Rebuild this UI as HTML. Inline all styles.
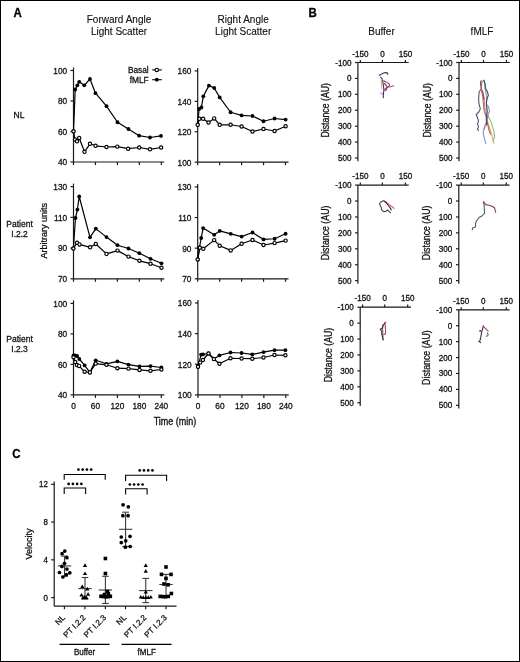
<!DOCTYPE html>
<html><head><meta charset="utf-8"><style>html,body{margin:0;padding:0;background:#fff;}body{width:520px;height:662px;overflow:hidden;font-family:"Liberation Sans", sans-serif;}svg{display:block;will-change:transform;}text{-webkit-font-smoothing:antialiased;}</style></head><body>
<svg width="520" height="662" viewBox="0 0 520 662" font-family='"Liberation Sans", sans-serif'>
<rect x="0" y="0" width="520" height="662" fill="#fff"/>
<text x="0.00" y="0.00" font-size="11.5" text-anchor="start" font-weight="bold" fill="#000" stroke="#000" stroke-width="0.28" transform="translate(13.6,16.9) scale(1,1.09)">A</text>
<text x="0.00" y="0.00" font-size="11.5" text-anchor="start" font-weight="bold" fill="#000" stroke="#000" stroke-width="0.28" transform="translate(308.6,17.0) scale(1,1.09)">B</text>
<text x="0.00" y="0.00" font-size="11.5" text-anchor="start" font-weight="bold" fill="#000" stroke="#000" stroke-width="0.28" transform="translate(12.3,457.5) scale(1,1.09)">C</text>
<text x="119.00" y="22.60" font-size="10" text-anchor="middle" font-weight="normal" fill="#111" stroke="#111" stroke-width="0.12" >Forward Angle</text>
<text x="119.00" y="34.70" font-size="10" text-anchor="middle" font-weight="normal" fill="#111" stroke="#111" stroke-width="0.12" >Light Scatter</text>
<text x="243.20" y="22.60" font-size="10" text-anchor="middle" font-weight="normal" fill="#111" stroke="#111" stroke-width="0.12" >Right Angle</text>
<text x="243.20" y="34.70" font-size="10" text-anchor="middle" font-weight="normal" fill="#111" stroke="#111" stroke-width="0.12" >Light Scatter</text>
<text x="148.70" y="72.80" font-size="8.3" text-anchor="end" font-weight="normal" fill="#111" stroke="#111" stroke-width="0.28" >Basal</text>
<text x="148.70" y="82.70" font-size="8.3" text-anchor="end" font-weight="normal" fill="#111" stroke="#111" stroke-width="0.28" >fMLF</text>
<line x1="152.20" y1="69.90" x2="161.80" y2="69.90" stroke="#000" stroke-width="1.1"/>
<line x1="152.20" y1="79.70" x2="161.80" y2="79.70" stroke="#000" stroke-width="1.1"/>
<circle cx="156.8" cy="69.9" r="1.7" fill="#fff" stroke="#000" stroke-width="1.15"/>
<circle cx="156.8" cy="79.7" r="1.9" fill="#000"/>
<text x="19.00" y="117.60" font-size="8.5" text-anchor="middle" font-weight="normal" fill="#111" stroke="#111" stroke-width="0.28" >NL</text>
<text x="19.60" y="227.10" font-size="8.5" text-anchor="middle" font-weight="normal" fill="#111" stroke="#111" stroke-width="0.28" >Patient</text>
<text x="19.60" y="237.00" font-size="8.5" text-anchor="middle" font-weight="normal" fill="#111" stroke="#111" stroke-width="0.28" >I.2.2</text>
<text x="19.60" y="341.60" font-size="8.5" text-anchor="middle" font-weight="normal" fill="#111" stroke="#111" stroke-width="0.28" >Patient</text>
<text x="19.60" y="351.70" font-size="8.5" text-anchor="middle" font-weight="normal" fill="#111" stroke="#111" stroke-width="0.28" >I.2.3</text>
<text x="0.00" y="0.00" font-size="9" text-anchor="middle" font-weight="normal" fill="#111" stroke="#111" stroke-width="0.28" transform="translate(47.2,230.8) rotate(-90)">Arbitrary units</text>
<line x1="73.50" y1="162.00" x2="73.50" y2="67.50" stroke="#1a1a1a" stroke-width="1.2"/>
<line x1="70.50" y1="162.00" x2="73.50" y2="162.00" stroke="#1a1a1a" stroke-width="1.2"/>
<text x="67.20" y="165.40" font-size="8.3" text-anchor="end" font-weight="normal" fill="#111" stroke="#111" stroke-width="0.28" >40</text>
<line x1="70.50" y1="131.50" x2="73.50" y2="131.50" stroke="#1a1a1a" stroke-width="1.2"/>
<text x="67.20" y="134.90" font-size="8.3" text-anchor="end" font-weight="normal" fill="#111" stroke="#111" stroke-width="0.28" >60</text>
<line x1="70.50" y1="101.00" x2="73.50" y2="101.00" stroke="#1a1a1a" stroke-width="1.2"/>
<text x="67.20" y="104.40" font-size="8.3" text-anchor="end" font-weight="normal" fill="#111" stroke="#111" stroke-width="0.28" >80</text>
<line x1="70.50" y1="70.50" x2="73.50" y2="70.50" stroke="#1a1a1a" stroke-width="1.2"/>
<text x="67.20" y="73.90" font-size="8.3" text-anchor="end" font-weight="normal" fill="#111" stroke="#111" stroke-width="0.28" >100</text>
<line x1="73.50" y1="162.00" x2="164.30" y2="162.00" stroke="#1a1a1a" stroke-width="1.2"/>
<line x1="73.50" y1="162.00" x2="73.50" y2="165.00" stroke="#1a1a1a" stroke-width="1.2"/>
<line x1="95.45" y1="162.00" x2="95.45" y2="165.00" stroke="#1a1a1a" stroke-width="1.2"/>
<line x1="117.40" y1="162.00" x2="117.40" y2="165.00" stroke="#1a1a1a" stroke-width="1.2"/>
<line x1="139.35" y1="162.00" x2="139.35" y2="165.00" stroke="#1a1a1a" stroke-width="1.2"/>
<line x1="161.30" y1="162.00" x2="161.30" y2="165.00" stroke="#1a1a1a" stroke-width="1.2"/>
<polyline points="73.50,131.50 75.20,89.50 77.30,85.30 79.20,81.80 84.30,85.30 90.00,79.00 95.50,93.20 106.50,106.20 117.50,122.25 128.40,129.00 139.10,135.70 150.00,137.50 161.00,135.90" fill="none" stroke="#000" stroke-width="1.2" stroke-linejoin="round" stroke-linecap="round"/>
<polyline points="73.50,131.30 75.00,139.50 77.00,141.30 79.20,138.00 84.50,151.80 90.00,143.80 95.50,145.80 106.50,147.00 117.30,146.60 128.10,148.70 139.20,147.50 150.00,149.30 161.10,147.50" fill="none" stroke="#000" stroke-width="1.2" stroke-linejoin="round" stroke-linecap="round"/>
<circle cx="73.50" cy="131.50" r="1.9" fill="#000"/>
<circle cx="75.20" cy="89.50" r="1.9" fill="#000"/>
<circle cx="77.30" cy="85.30" r="1.9" fill="#000"/>
<circle cx="79.20" cy="81.80" r="1.9" fill="#000"/>
<circle cx="84.30" cy="85.30" r="1.9" fill="#000"/>
<circle cx="90.00" cy="79.00" r="1.9" fill="#000"/>
<circle cx="95.50" cy="93.20" r="1.9" fill="#000"/>
<circle cx="106.50" cy="106.20" r="1.9" fill="#000"/>
<circle cx="117.50" cy="122.25" r="1.9" fill="#000"/>
<circle cx="128.40" cy="129.00" r="1.9" fill="#000"/>
<circle cx="139.10" cy="135.70" r="1.9" fill="#000"/>
<circle cx="150.00" cy="137.50" r="1.9" fill="#000"/>
<circle cx="161.00" cy="135.90" r="1.9" fill="#000"/>
<circle cx="73.50" cy="131.30" r="1.65" fill="#fff" stroke="#000" stroke-width="1.15"/>
<circle cx="75.00" cy="139.50" r="1.65" fill="#fff" stroke="#000" stroke-width="1.15"/>
<circle cx="77.00" cy="141.30" r="1.65" fill="#fff" stroke="#000" stroke-width="1.15"/>
<circle cx="79.20" cy="138.00" r="1.65" fill="#fff" stroke="#000" stroke-width="1.15"/>
<circle cx="84.50" cy="151.80" r="1.65" fill="#fff" stroke="#000" stroke-width="1.15"/>
<circle cx="90.00" cy="143.80" r="1.65" fill="#fff" stroke="#000" stroke-width="1.15"/>
<circle cx="95.50" cy="145.80" r="1.65" fill="#fff" stroke="#000" stroke-width="1.15"/>
<circle cx="106.50" cy="147.00" r="1.65" fill="#fff" stroke="#000" stroke-width="1.15"/>
<circle cx="117.30" cy="146.60" r="1.65" fill="#fff" stroke="#000" stroke-width="1.15"/>
<circle cx="128.10" cy="148.70" r="1.65" fill="#fff" stroke="#000" stroke-width="1.15"/>
<circle cx="139.20" cy="147.50" r="1.65" fill="#fff" stroke="#000" stroke-width="1.15"/>
<circle cx="150.00" cy="149.30" r="1.65" fill="#fff" stroke="#000" stroke-width="1.15"/>
<circle cx="161.10" cy="147.50" r="1.65" fill="#fff" stroke="#000" stroke-width="1.15"/>
<line x1="197.70" y1="162.20" x2="197.70" y2="67.90" stroke="#1a1a1a" stroke-width="1.2"/>
<line x1="194.70" y1="162.20" x2="197.70" y2="162.20" stroke="#1a1a1a" stroke-width="1.2"/>
<text x="191.40" y="165.60" font-size="8.3" text-anchor="end" font-weight="normal" fill="#111" stroke="#111" stroke-width="0.28" >100</text>
<line x1="194.70" y1="131.77" x2="197.70" y2="131.77" stroke="#1a1a1a" stroke-width="1.2"/>
<text x="191.40" y="135.17" font-size="8.3" text-anchor="end" font-weight="normal" fill="#111" stroke="#111" stroke-width="0.28" >120</text>
<line x1="194.70" y1="101.33" x2="197.70" y2="101.33" stroke="#1a1a1a" stroke-width="1.2"/>
<text x="191.40" y="104.73" font-size="8.3" text-anchor="end" font-weight="normal" fill="#111" stroke="#111" stroke-width="0.28" >140</text>
<line x1="194.70" y1="70.90" x2="197.70" y2="70.90" stroke="#1a1a1a" stroke-width="1.2"/>
<text x="191.40" y="74.30" font-size="8.3" text-anchor="end" font-weight="normal" fill="#111" stroke="#111" stroke-width="0.28" >160</text>
<line x1="197.70" y1="162.20" x2="288.50" y2="162.20" stroke="#1a1a1a" stroke-width="1.2"/>
<line x1="197.70" y1="162.20" x2="197.70" y2="165.20" stroke="#1a1a1a" stroke-width="1.2"/>
<line x1="219.65" y1="162.20" x2="219.65" y2="165.20" stroke="#1a1a1a" stroke-width="1.2"/>
<line x1="241.60" y1="162.20" x2="241.60" y2="165.20" stroke="#1a1a1a" stroke-width="1.2"/>
<line x1="263.55" y1="162.20" x2="263.55" y2="165.20" stroke="#1a1a1a" stroke-width="1.2"/>
<line x1="285.50" y1="162.20" x2="285.50" y2="165.20" stroke="#1a1a1a" stroke-width="1.2"/>
<polyline points="197.70,124.80 199.10,109.00 201.40,107.50 203.30,96.30 208.90,85.60 214.20,88.00 219.70,97.40 230.60,112.25 241.60,115.40 252.50,116.00 263.50,121.25 274.60,118.50 285.60,119.60" fill="none" stroke="#000" stroke-width="1.2" stroke-linejoin="round" stroke-linecap="round"/>
<polyline points="197.70,124.80 199.40,118.80 203.10,118.80 208.50,122.50 214.20,118.40 219.70,124.80 230.60,124.75 241.60,126.50 252.50,131.50 263.50,129.00 274.60,131.00 285.60,126.25" fill="none" stroke="#000" stroke-width="1.2" stroke-linejoin="round" stroke-linecap="round"/>
<circle cx="197.70" cy="124.80" r="1.9" fill="#000"/>
<circle cx="199.10" cy="109.00" r="1.9" fill="#000"/>
<circle cx="201.40" cy="107.50" r="1.9" fill="#000"/>
<circle cx="203.30" cy="96.30" r="1.9" fill="#000"/>
<circle cx="208.90" cy="85.60" r="1.9" fill="#000"/>
<circle cx="214.20" cy="88.00" r="1.9" fill="#000"/>
<circle cx="219.70" cy="97.40" r="1.9" fill="#000"/>
<circle cx="230.60" cy="112.25" r="1.9" fill="#000"/>
<circle cx="241.60" cy="115.40" r="1.9" fill="#000"/>
<circle cx="252.50" cy="116.00" r="1.9" fill="#000"/>
<circle cx="263.50" cy="121.25" r="1.9" fill="#000"/>
<circle cx="274.60" cy="118.50" r="1.9" fill="#000"/>
<circle cx="285.60" cy="119.60" r="1.9" fill="#000"/>
<circle cx="197.70" cy="124.80" r="1.65" fill="#fff" stroke="#000" stroke-width="1.15"/>
<circle cx="199.40" cy="118.80" r="1.65" fill="#fff" stroke="#000" stroke-width="1.15"/>
<circle cx="203.10" cy="118.80" r="1.65" fill="#fff" stroke="#000" stroke-width="1.15"/>
<circle cx="208.50" cy="122.50" r="1.65" fill="#fff" stroke="#000" stroke-width="1.15"/>
<circle cx="214.20" cy="118.40" r="1.65" fill="#fff" stroke="#000" stroke-width="1.15"/>
<circle cx="219.70" cy="124.80" r="1.65" fill="#fff" stroke="#000" stroke-width="1.15"/>
<circle cx="230.60" cy="124.75" r="1.65" fill="#fff" stroke="#000" stroke-width="1.15"/>
<circle cx="241.60" cy="126.50" r="1.65" fill="#fff" stroke="#000" stroke-width="1.15"/>
<circle cx="252.50" cy="131.50" r="1.65" fill="#fff" stroke="#000" stroke-width="1.15"/>
<circle cx="263.50" cy="129.00" r="1.65" fill="#fff" stroke="#000" stroke-width="1.15"/>
<circle cx="274.60" cy="131.00" r="1.65" fill="#fff" stroke="#000" stroke-width="1.15"/>
<circle cx="285.60" cy="126.25" r="1.65" fill="#fff" stroke="#000" stroke-width="1.15"/>
<line x1="73.50" y1="278.80" x2="73.50" y2="183.60" stroke="#1a1a1a" stroke-width="1.2"/>
<line x1="70.50" y1="278.80" x2="73.50" y2="278.80" stroke="#1a1a1a" stroke-width="1.2"/>
<text x="67.20" y="282.20" font-size="8.3" text-anchor="end" font-weight="normal" fill="#111" stroke="#111" stroke-width="0.28" >70</text>
<line x1="70.50" y1="248.07" x2="73.50" y2="248.07" stroke="#1a1a1a" stroke-width="1.2"/>
<text x="67.20" y="251.47" font-size="8.3" text-anchor="end" font-weight="normal" fill="#111" stroke="#111" stroke-width="0.28" >90</text>
<line x1="70.50" y1="217.33" x2="73.50" y2="217.33" stroke="#1a1a1a" stroke-width="1.2"/>
<text x="67.20" y="220.73" font-size="8.3" text-anchor="end" font-weight="normal" fill="#111" stroke="#111" stroke-width="0.28" >110</text>
<line x1="70.50" y1="186.60" x2="73.50" y2="186.60" stroke="#1a1a1a" stroke-width="1.2"/>
<text x="67.20" y="190.00" font-size="8.3" text-anchor="end" font-weight="normal" fill="#111" stroke="#111" stroke-width="0.28" >130</text>
<line x1="73.50" y1="278.80" x2="164.30" y2="278.80" stroke="#1a1a1a" stroke-width="1.2"/>
<line x1="73.50" y1="278.80" x2="73.50" y2="281.80" stroke="#1a1a1a" stroke-width="1.2"/>
<line x1="95.45" y1="278.80" x2="95.45" y2="281.80" stroke="#1a1a1a" stroke-width="1.2"/>
<line x1="117.40" y1="278.80" x2="117.40" y2="281.80" stroke="#1a1a1a" stroke-width="1.2"/>
<line x1="139.35" y1="278.80" x2="139.35" y2="281.80" stroke="#1a1a1a" stroke-width="1.2"/>
<line x1="161.30" y1="278.80" x2="161.30" y2="281.80" stroke="#1a1a1a" stroke-width="1.2"/>
<polyline points="73.40,248.50 75.50,218.00 77.40,209.60 79.20,196.50 90.00,237.30 95.80,228.60 106.50,237.10 117.50,245.20 128.50,248.50 139.40,253.20 150.50,258.80 161.50,263.30" fill="none" stroke="#000" stroke-width="1.2" stroke-linejoin="round" stroke-linecap="round"/>
<polyline points="73.40,248.50 77.00,242.80 79.50,244.40 90.10,247.30 95.80,244.00 106.50,253.90 117.50,250.60 128.50,256.60 139.40,260.80 150.50,263.70 161.50,267.80" fill="none" stroke="#000" stroke-width="1.2" stroke-linejoin="round" stroke-linecap="round"/>
<circle cx="73.40" cy="248.50" r="1.9" fill="#000"/>
<circle cx="75.50" cy="218.00" r="1.9" fill="#000"/>
<circle cx="77.40" cy="209.60" r="1.9" fill="#000"/>
<circle cx="79.20" cy="196.50" r="1.9" fill="#000"/>
<circle cx="90.00" cy="237.30" r="1.9" fill="#000"/>
<circle cx="95.80" cy="228.60" r="1.9" fill="#000"/>
<circle cx="106.50" cy="237.10" r="1.9" fill="#000"/>
<circle cx="117.50" cy="245.20" r="1.9" fill="#000"/>
<circle cx="128.50" cy="248.50" r="1.9" fill="#000"/>
<circle cx="139.40" cy="253.20" r="1.9" fill="#000"/>
<circle cx="150.50" cy="258.80" r="1.9" fill="#000"/>
<circle cx="161.50" cy="263.30" r="1.9" fill="#000"/>
<circle cx="73.40" cy="248.50" r="1.65" fill="#fff" stroke="#000" stroke-width="1.15"/>
<circle cx="77.00" cy="242.80" r="1.65" fill="#fff" stroke="#000" stroke-width="1.15"/>
<circle cx="79.50" cy="244.40" r="1.65" fill="#fff" stroke="#000" stroke-width="1.15"/>
<circle cx="90.10" cy="247.30" r="1.65" fill="#fff" stroke="#000" stroke-width="1.15"/>
<circle cx="95.80" cy="244.00" r="1.65" fill="#fff" stroke="#000" stroke-width="1.15"/>
<circle cx="106.50" cy="253.90" r="1.65" fill="#fff" stroke="#000" stroke-width="1.15"/>
<circle cx="117.50" cy="250.60" r="1.65" fill="#fff" stroke="#000" stroke-width="1.15"/>
<circle cx="128.50" cy="256.60" r="1.65" fill="#fff" stroke="#000" stroke-width="1.15"/>
<circle cx="139.40" cy="260.80" r="1.65" fill="#fff" stroke="#000" stroke-width="1.15"/>
<circle cx="150.50" cy="263.70" r="1.65" fill="#fff" stroke="#000" stroke-width="1.15"/>
<circle cx="161.50" cy="267.80" r="1.65" fill="#fff" stroke="#000" stroke-width="1.15"/>
<line x1="197.70" y1="278.80" x2="197.70" y2="183.90" stroke="#1a1a1a" stroke-width="1.2"/>
<line x1="194.70" y1="278.80" x2="197.70" y2="278.80" stroke="#1a1a1a" stroke-width="1.2"/>
<text x="191.40" y="282.20" font-size="8.3" text-anchor="end" font-weight="normal" fill="#111" stroke="#111" stroke-width="0.28" >70</text>
<line x1="194.70" y1="248.17" x2="197.70" y2="248.17" stroke="#1a1a1a" stroke-width="1.2"/>
<text x="191.40" y="251.57" font-size="8.3" text-anchor="end" font-weight="normal" fill="#111" stroke="#111" stroke-width="0.28" >90</text>
<line x1="194.70" y1="217.53" x2="197.70" y2="217.53" stroke="#1a1a1a" stroke-width="1.2"/>
<text x="191.40" y="220.93" font-size="8.3" text-anchor="end" font-weight="normal" fill="#111" stroke="#111" stroke-width="0.28" >110</text>
<line x1="194.70" y1="186.90" x2="197.70" y2="186.90" stroke="#1a1a1a" stroke-width="1.2"/>
<text x="191.40" y="190.30" font-size="8.3" text-anchor="end" font-weight="normal" fill="#111" stroke="#111" stroke-width="0.28" >130</text>
<line x1="197.70" y1="278.80" x2="288.50" y2="278.80" stroke="#1a1a1a" stroke-width="1.2"/>
<line x1="197.70" y1="278.80" x2="197.70" y2="281.80" stroke="#1a1a1a" stroke-width="1.2"/>
<line x1="219.65" y1="278.80" x2="219.65" y2="281.80" stroke="#1a1a1a" stroke-width="1.2"/>
<line x1="241.60" y1="278.80" x2="241.60" y2="281.80" stroke="#1a1a1a" stroke-width="1.2"/>
<line x1="263.55" y1="278.80" x2="263.55" y2="281.80" stroke="#1a1a1a" stroke-width="1.2"/>
<line x1="285.50" y1="278.80" x2="285.50" y2="281.80" stroke="#1a1a1a" stroke-width="1.2"/>
<polyline points="197.70,259.50 199.50,247.50 201.20,238.00 203.10,228.10 214.20,234.80 219.70,230.90 230.70,233.80 241.60,236.60 252.50,232.50 263.50,239.40 274.60,238.75 285.60,233.75" fill="none" stroke="#000" stroke-width="1.2" stroke-linejoin="round" stroke-linecap="round"/>
<polyline points="197.70,259.50 199.80,247.70 203.30,248.80 214.20,240.10 219.70,245.70 230.70,250.40 241.60,243.75 252.50,240.00 263.50,245.00 274.60,243.10 285.60,240.60" fill="none" stroke="#000" stroke-width="1.2" stroke-linejoin="round" stroke-linecap="round"/>
<circle cx="197.70" cy="259.50" r="1.9" fill="#000"/>
<circle cx="199.50" cy="247.50" r="1.9" fill="#000"/>
<circle cx="201.20" cy="238.00" r="1.9" fill="#000"/>
<circle cx="203.10" cy="228.10" r="1.9" fill="#000"/>
<circle cx="214.20" cy="234.80" r="1.9" fill="#000"/>
<circle cx="219.70" cy="230.90" r="1.9" fill="#000"/>
<circle cx="230.70" cy="233.80" r="1.9" fill="#000"/>
<circle cx="241.60" cy="236.60" r="1.9" fill="#000"/>
<circle cx="252.50" cy="232.50" r="1.9" fill="#000"/>
<circle cx="263.50" cy="239.40" r="1.9" fill="#000"/>
<circle cx="274.60" cy="238.75" r="1.9" fill="#000"/>
<circle cx="285.60" cy="233.75" r="1.9" fill="#000"/>
<circle cx="197.70" cy="259.50" r="1.65" fill="#fff" stroke="#000" stroke-width="1.15"/>
<circle cx="199.80" cy="247.70" r="1.65" fill="#fff" stroke="#000" stroke-width="1.15"/>
<circle cx="203.30" cy="248.80" r="1.65" fill="#fff" stroke="#000" stroke-width="1.15"/>
<circle cx="214.20" cy="240.10" r="1.65" fill="#fff" stroke="#000" stroke-width="1.15"/>
<circle cx="219.70" cy="245.70" r="1.65" fill="#fff" stroke="#000" stroke-width="1.15"/>
<circle cx="230.70" cy="250.40" r="1.65" fill="#fff" stroke="#000" stroke-width="1.15"/>
<circle cx="241.60" cy="243.75" r="1.65" fill="#fff" stroke="#000" stroke-width="1.15"/>
<circle cx="252.50" cy="240.00" r="1.65" fill="#fff" stroke="#000" stroke-width="1.15"/>
<circle cx="263.50" cy="245.00" r="1.65" fill="#fff" stroke="#000" stroke-width="1.15"/>
<circle cx="274.60" cy="243.10" r="1.65" fill="#fff" stroke="#000" stroke-width="1.15"/>
<circle cx="285.60" cy="240.60" r="1.65" fill="#fff" stroke="#000" stroke-width="1.15"/>
<line x1="73.50" y1="394.90" x2="73.50" y2="300.40" stroke="#1a1a1a" stroke-width="1.2"/>
<line x1="70.50" y1="394.90" x2="73.50" y2="394.90" stroke="#1a1a1a" stroke-width="1.2"/>
<text x="67.20" y="398.30" font-size="8.3" text-anchor="end" font-weight="normal" fill="#111" stroke="#111" stroke-width="0.28" >40</text>
<line x1="70.50" y1="364.40" x2="73.50" y2="364.40" stroke="#1a1a1a" stroke-width="1.2"/>
<text x="67.20" y="367.80" font-size="8.3" text-anchor="end" font-weight="normal" fill="#111" stroke="#111" stroke-width="0.28" >60</text>
<line x1="70.50" y1="333.90" x2="73.50" y2="333.90" stroke="#1a1a1a" stroke-width="1.2"/>
<text x="67.20" y="337.30" font-size="8.3" text-anchor="end" font-weight="normal" fill="#111" stroke="#111" stroke-width="0.28" >80</text>
<line x1="70.50" y1="303.40" x2="73.50" y2="303.40" stroke="#1a1a1a" stroke-width="1.2"/>
<text x="67.20" y="306.80" font-size="8.3" text-anchor="end" font-weight="normal" fill="#111" stroke="#111" stroke-width="0.28" >100</text>
<line x1="73.50" y1="394.90" x2="164.30" y2="394.90" stroke="#1a1a1a" stroke-width="1.2"/>
<line x1="73.50" y1="394.90" x2="73.50" y2="397.90" stroke="#1a1a1a" stroke-width="1.2"/>
<text x="73.50" y="408.60" font-size="8.3" text-anchor="middle" font-weight="normal" fill="#111" stroke="#111" stroke-width="0.28" >0</text>
<line x1="95.45" y1="394.90" x2="95.45" y2="397.90" stroke="#1a1a1a" stroke-width="1.2"/>
<text x="95.45" y="408.60" font-size="8.3" text-anchor="middle" font-weight="normal" fill="#111" stroke="#111" stroke-width="0.28" >60</text>
<line x1="117.40" y1="394.90" x2="117.40" y2="397.90" stroke="#1a1a1a" stroke-width="1.2"/>
<text x="117.40" y="408.60" font-size="8.3" text-anchor="middle" font-weight="normal" fill="#111" stroke="#111" stroke-width="0.28" >120</text>
<line x1="139.35" y1="394.90" x2="139.35" y2="397.90" stroke="#1a1a1a" stroke-width="1.2"/>
<text x="139.35" y="408.60" font-size="8.3" text-anchor="middle" font-weight="normal" fill="#111" stroke="#111" stroke-width="0.28" >180</text>
<line x1="161.30" y1="394.90" x2="161.30" y2="397.90" stroke="#1a1a1a" stroke-width="1.2"/>
<text x="161.30" y="408.60" font-size="8.3" text-anchor="middle" font-weight="normal" fill="#111" stroke="#111" stroke-width="0.28" >240</text>
<polyline points="73.50,355.50 75.20,355.30 77.10,356.00 79.30,359.00 84.60,365.40 89.90,372.30 95.70,360.30 106.50,363.80 117.40,361.30 128.50,364.60 139.50,366.30 150.50,366.10 161.40,367.50" fill="none" stroke="#000" stroke-width="1.2" stroke-linejoin="round" stroke-linecap="round"/>
<polyline points="73.50,357.30 75.20,362.00 76.90,365.00 79.10,365.90 84.60,371.80 89.90,372.40 95.70,363.60 106.50,364.80 117.40,368.20 128.50,368.60 139.50,369.90 150.50,370.80 161.40,369.50" fill="none" stroke="#000" stroke-width="1.2" stroke-linejoin="round" stroke-linecap="round"/>
<circle cx="73.50" cy="355.50" r="1.9" fill="#000"/>
<circle cx="75.20" cy="355.30" r="1.9" fill="#000"/>
<circle cx="77.10" cy="356.00" r="1.9" fill="#000"/>
<circle cx="79.30" cy="359.00" r="1.9" fill="#000"/>
<circle cx="84.60" cy="365.40" r="1.9" fill="#000"/>
<circle cx="89.90" cy="372.30" r="1.9" fill="#000"/>
<circle cx="95.70" cy="360.30" r="1.9" fill="#000"/>
<circle cx="106.50" cy="363.80" r="1.9" fill="#000"/>
<circle cx="117.40" cy="361.30" r="1.9" fill="#000"/>
<circle cx="128.50" cy="364.60" r="1.9" fill="#000"/>
<circle cx="139.50" cy="366.30" r="1.9" fill="#000"/>
<circle cx="150.50" cy="366.10" r="1.9" fill="#000"/>
<circle cx="161.40" cy="367.50" r="1.9" fill="#000"/>
<circle cx="73.50" cy="357.30" r="1.65" fill="#fff" stroke="#000" stroke-width="1.15"/>
<circle cx="75.20" cy="362.00" r="1.65" fill="#fff" stroke="#000" stroke-width="1.15"/>
<circle cx="76.90" cy="365.00" r="1.65" fill="#fff" stroke="#000" stroke-width="1.15"/>
<circle cx="79.10" cy="365.90" r="1.65" fill="#fff" stroke="#000" stroke-width="1.15"/>
<circle cx="84.60" cy="371.80" r="1.65" fill="#fff" stroke="#000" stroke-width="1.15"/>
<circle cx="89.90" cy="372.40" r="1.65" fill="#fff" stroke="#000" stroke-width="1.15"/>
<circle cx="95.70" cy="363.60" r="1.65" fill="#fff" stroke="#000" stroke-width="1.15"/>
<circle cx="106.50" cy="364.80" r="1.65" fill="#fff" stroke="#000" stroke-width="1.15"/>
<circle cx="117.40" cy="368.20" r="1.65" fill="#fff" stroke="#000" stroke-width="1.15"/>
<circle cx="128.50" cy="368.60" r="1.65" fill="#fff" stroke="#000" stroke-width="1.15"/>
<circle cx="139.50" cy="369.90" r="1.65" fill="#fff" stroke="#000" stroke-width="1.15"/>
<circle cx="150.50" cy="370.80" r="1.65" fill="#fff" stroke="#000" stroke-width="1.15"/>
<circle cx="161.40" cy="369.50" r="1.65" fill="#fff" stroke="#000" stroke-width="1.15"/>
<line x1="198.00" y1="394.90" x2="198.00" y2="300.00" stroke="#1a1a1a" stroke-width="1.2"/>
<line x1="195.00" y1="394.90" x2="198.00" y2="394.90" stroke="#1a1a1a" stroke-width="1.2"/>
<text x="191.70" y="398.30" font-size="8.3" text-anchor="end" font-weight="normal" fill="#111" stroke="#111" stroke-width="0.28" >100</text>
<line x1="195.00" y1="364.27" x2="198.00" y2="364.27" stroke="#1a1a1a" stroke-width="1.2"/>
<text x="191.70" y="367.67" font-size="8.3" text-anchor="end" font-weight="normal" fill="#111" stroke="#111" stroke-width="0.28" >120</text>
<line x1="195.00" y1="333.63" x2="198.00" y2="333.63" stroke="#1a1a1a" stroke-width="1.2"/>
<text x="191.70" y="337.03" font-size="8.3" text-anchor="end" font-weight="normal" fill="#111" stroke="#111" stroke-width="0.28" >140</text>
<line x1="195.00" y1="303.00" x2="198.00" y2="303.00" stroke="#1a1a1a" stroke-width="1.2"/>
<text x="191.70" y="306.40" font-size="8.3" text-anchor="end" font-weight="normal" fill="#111" stroke="#111" stroke-width="0.28" >160</text>
<line x1="198.00" y1="394.90" x2="288.80" y2="394.90" stroke="#1a1a1a" stroke-width="1.2"/>
<line x1="198.00" y1="394.90" x2="198.00" y2="397.90" stroke="#1a1a1a" stroke-width="1.2"/>
<text x="198.00" y="408.60" font-size="8.3" text-anchor="middle" font-weight="normal" fill="#111" stroke="#111" stroke-width="0.28" >0</text>
<line x1="219.95" y1="394.90" x2="219.95" y2="397.90" stroke="#1a1a1a" stroke-width="1.2"/>
<text x="219.95" y="408.60" font-size="8.3" text-anchor="middle" font-weight="normal" fill="#111" stroke="#111" stroke-width="0.28" >60</text>
<line x1="241.90" y1="394.90" x2="241.90" y2="397.90" stroke="#1a1a1a" stroke-width="1.2"/>
<text x="241.90" y="408.60" font-size="8.3" text-anchor="middle" font-weight="normal" fill="#111" stroke="#111" stroke-width="0.28" >120</text>
<line x1="263.85" y1="394.90" x2="263.85" y2="397.90" stroke="#1a1a1a" stroke-width="1.2"/>
<text x="263.85" y="408.60" font-size="8.3" text-anchor="middle" font-weight="normal" fill="#111" stroke="#111" stroke-width="0.28" >180</text>
<line x1="285.80" y1="394.90" x2="285.80" y2="397.90" stroke="#1a1a1a" stroke-width="1.2"/>
<text x="285.80" y="408.60" font-size="8.3" text-anchor="middle" font-weight="normal" fill="#111" stroke="#111" stroke-width="0.28" >240</text>
<polyline points="198.00,366.70 201.10,354.60 203.00,354.40 208.50,353.50 213.90,359.00 219.40,355.40 230.50,352.50 241.60,353.00 252.30,354.40 263.50,352.10 274.50,350.20 285.40,350.20" fill="none" stroke="#000" stroke-width="1.2" stroke-linejoin="round" stroke-linecap="round"/>
<polyline points="198.00,366.70 200.20,362.60 202.90,360.00 208.50,353.50 213.90,359.00 219.40,363.80 230.50,358.30 241.60,358.50 252.30,358.70 263.50,357.50 274.50,355.00 285.40,355.30" fill="none" stroke="#000" stroke-width="1.2" stroke-linejoin="round" stroke-linecap="round"/>
<circle cx="198.00" cy="366.70" r="1.9" fill="#000"/>
<circle cx="201.10" cy="354.60" r="1.9" fill="#000"/>
<circle cx="203.00" cy="354.40" r="1.9" fill="#000"/>
<circle cx="208.50" cy="353.50" r="1.9" fill="#000"/>
<circle cx="213.90" cy="359.00" r="1.9" fill="#000"/>
<circle cx="219.40" cy="355.40" r="1.9" fill="#000"/>
<circle cx="230.50" cy="352.50" r="1.9" fill="#000"/>
<circle cx="241.60" cy="353.00" r="1.9" fill="#000"/>
<circle cx="252.30" cy="354.40" r="1.9" fill="#000"/>
<circle cx="263.50" cy="352.10" r="1.9" fill="#000"/>
<circle cx="274.50" cy="350.20" r="1.9" fill="#000"/>
<circle cx="285.40" cy="350.20" r="1.9" fill="#000"/>
<circle cx="198.00" cy="366.70" r="1.65" fill="#fff" stroke="#000" stroke-width="1.15"/>
<circle cx="200.20" cy="362.60" r="1.65" fill="#fff" stroke="#000" stroke-width="1.15"/>
<circle cx="202.90" cy="360.00" r="1.65" fill="#fff" stroke="#000" stroke-width="1.15"/>
<circle cx="208.50" cy="353.50" r="1.65" fill="#fff" stroke="#000" stroke-width="1.15"/>
<circle cx="213.90" cy="359.00" r="1.65" fill="#fff" stroke="#000" stroke-width="1.15"/>
<circle cx="219.40" cy="363.80" r="1.65" fill="#fff" stroke="#000" stroke-width="1.15"/>
<circle cx="230.50" cy="358.30" r="1.65" fill="#fff" stroke="#000" stroke-width="1.15"/>
<circle cx="241.60" cy="358.50" r="1.65" fill="#fff" stroke="#000" stroke-width="1.15"/>
<circle cx="252.30" cy="358.70" r="1.65" fill="#fff" stroke="#000" stroke-width="1.15"/>
<circle cx="263.50" cy="357.50" r="1.65" fill="#fff" stroke="#000" stroke-width="1.15"/>
<circle cx="274.50" cy="355.00" r="1.65" fill="#fff" stroke="#000" stroke-width="1.15"/>
<circle cx="285.40" cy="355.30" r="1.65" fill="#fff" stroke="#000" stroke-width="1.15"/>
<text x="0.00" y="0.00" font-size="9" text-anchor="middle" font-weight="normal" fill="#111" stroke="#111" stroke-width="0.28" transform="translate(175.0,425.4) scale(1,1.15)">Time (min)</text>
<text x="381.50" y="34.90" font-size="10" text-anchor="middle" font-weight="normal" fill="#111" stroke="#111" stroke-width="0.12" >Buffer</text>
<text x="482.00" y="35.20" font-size="10" text-anchor="middle" font-weight="normal" fill="#111" stroke="#111" stroke-width="0.12" >fMLF</text>
<line x1="357.90" y1="62.50" x2="408.70" y2="62.50" stroke="#1a1a1a" stroke-width="1.2"/>
<line x1="360.30" y1="59.90" x2="360.30" y2="62.50" stroke="#1a1a1a" stroke-width="1.2"/>
<text x="0.00" y="0.00" font-size="8.1" text-anchor="middle" font-weight="normal" fill="#111" stroke="#111" stroke-width="0.28" transform="translate(360.30,56.50) scale(1,1.06)">-150</text>
<line x1="382.40" y1="59.90" x2="382.40" y2="62.50" stroke="#1a1a1a" stroke-width="1.2"/>
<text x="0.00" y="0.00" font-size="8.1" text-anchor="middle" font-weight="normal" fill="#111" stroke="#111" stroke-width="0.28" transform="translate(382.40,56.50) scale(1,1.06)">0</text>
<line x1="405.40" y1="59.90" x2="405.40" y2="62.50" stroke="#1a1a1a" stroke-width="1.2"/>
<text x="0.00" y="0.00" font-size="8.1" text-anchor="middle" font-weight="normal" fill="#111" stroke="#111" stroke-width="0.28" transform="translate(405.40,56.50) scale(1,1.06)">150</text>
<line x1="357.90" y1="62.50" x2="357.90" y2="161.20" stroke="#1a1a1a" stroke-width="1.2"/>
<line x1="355.10" y1="62.50" x2="357.90" y2="62.50" stroke="#1a1a1a" stroke-width="1.2"/>
<text x="0.00" y="0.00" font-size="8.1" text-anchor="end" font-weight="normal" fill="#111" stroke="#111" stroke-width="0.28" transform="translate(351.40,65.50) scale(1,1.06)">-100</text>
<line x1="355.10" y1="78.42" x2="357.90" y2="78.42" stroke="#1a1a1a" stroke-width="1.2"/>
<text x="0.00" y="0.00" font-size="8.1" text-anchor="end" font-weight="normal" fill="#111" stroke="#111" stroke-width="0.28" transform="translate(351.40,81.42) scale(1,1.06)">0</text>
<line x1="355.10" y1="94.34" x2="357.90" y2="94.34" stroke="#1a1a1a" stroke-width="1.2"/>
<text x="0.00" y="0.00" font-size="8.1" text-anchor="end" font-weight="normal" fill="#111" stroke="#111" stroke-width="0.28" transform="translate(351.40,97.34) scale(1,1.06)">100</text>
<line x1="355.10" y1="110.26" x2="357.90" y2="110.26" stroke="#1a1a1a" stroke-width="1.2"/>
<text x="0.00" y="0.00" font-size="8.1" text-anchor="end" font-weight="normal" fill="#111" stroke="#111" stroke-width="0.28" transform="translate(351.40,113.26) scale(1,1.06)">200</text>
<line x1="355.10" y1="126.18" x2="357.90" y2="126.18" stroke="#1a1a1a" stroke-width="1.2"/>
<text x="0.00" y="0.00" font-size="8.1" text-anchor="end" font-weight="normal" fill="#111" stroke="#111" stroke-width="0.28" transform="translate(351.40,129.18) scale(1,1.06)">300</text>
<line x1="355.10" y1="142.10" x2="357.90" y2="142.10" stroke="#1a1a1a" stroke-width="1.2"/>
<text x="0.00" y="0.00" font-size="8.1" text-anchor="end" font-weight="normal" fill="#111" stroke="#111" stroke-width="0.28" transform="translate(351.40,145.10) scale(1,1.06)">400</text>
<line x1="355.10" y1="158.02" x2="357.90" y2="158.02" stroke="#1a1a1a" stroke-width="1.2"/>
<text x="0.00" y="0.00" font-size="8.1" text-anchor="end" font-weight="normal" fill="#111" stroke="#111" stroke-width="0.28" transform="translate(351.40,161.02) scale(1,1.06)">500</text>
<text x="0.00" y="0.00" font-size="10.3" text-anchor="middle" font-weight="normal" fill="#111" stroke="#111" stroke-width="0.28" textLength="54.6" lengthAdjust="spacingAndGlyphs" transform="translate(329.40,110.30) rotate(-90)">Distance (AU)</text>
<polyline points="381.20,80.30 381.50,84.40 381.80,88.50" fill="none" stroke="#c8b090" stroke-width="1.1" stroke-linejoin="round" stroke-linecap="round"/>
<polyline points="380.70,92.70 382.30,93.70 383.80,94.70" fill="none" stroke="#9aa0d8" stroke-width="1.1" stroke-linejoin="round" stroke-linecap="round"/>
<polyline points="380.70,77.20 382.00,78.80 382.80,81.40 383.30,85.00 383.80,88.50 383.80,91.10 383.30,94.70 383.30,97.80" fill="none" stroke="#5a2a5a" stroke-width="1.1" stroke-linejoin="round" stroke-linecap="round"/>
<polyline points="383.80,80.80 385.90,81.90 388.40,83.40 389.70,85.00 388.90,86.50 387.40,87.50 385.90,88.50 384.30,89.60" fill="none" stroke="#8a4070" stroke-width="1.1" stroke-linejoin="round" stroke-linecap="round"/>
<polyline points="384.30,83.40 385.90,85.00 386.90,86.50 386.40,89.60 385.40,90.60" fill="none" stroke="#7a3060" stroke-width="1.1" stroke-linejoin="round" stroke-linecap="round"/>
<polyline points="388.90,87.00 391.50,86.50 393.60,85.70" fill="none" stroke="#9a5080" stroke-width="1.1" stroke-linejoin="round" stroke-linecap="round"/>
<polyline points="379.20,75.20 381.00,74.40 382.30,73.60 383.80,73.10 385.40,72.60 387.40,73.10 387.90,74.20" fill="none" stroke="#2a2a6a" stroke-width="1.1" stroke-linejoin="round" stroke-linecap="round"/>
<line x1="459.00" y1="62.50" x2="509.80" y2="62.50" stroke="#1a1a1a" stroke-width="1.2"/>
<line x1="461.40" y1="59.90" x2="461.40" y2="62.50" stroke="#1a1a1a" stroke-width="1.2"/>
<text x="0.00" y="0.00" font-size="8.1" text-anchor="middle" font-weight="normal" fill="#111" stroke="#111" stroke-width="0.28" transform="translate(461.40,56.50) scale(1,1.06)">-150</text>
<line x1="483.50" y1="59.90" x2="483.50" y2="62.50" stroke="#1a1a1a" stroke-width="1.2"/>
<text x="0.00" y="0.00" font-size="8.1" text-anchor="middle" font-weight="normal" fill="#111" stroke="#111" stroke-width="0.28" transform="translate(483.50,56.50) scale(1,1.06)">0</text>
<line x1="506.50" y1="59.90" x2="506.50" y2="62.50" stroke="#1a1a1a" stroke-width="1.2"/>
<text x="0.00" y="0.00" font-size="8.1" text-anchor="middle" font-weight="normal" fill="#111" stroke="#111" stroke-width="0.28" transform="translate(506.50,56.50) scale(1,1.06)">150</text>
<line x1="459.00" y1="62.50" x2="459.00" y2="161.20" stroke="#1a1a1a" stroke-width="1.2"/>
<line x1="456.20" y1="62.50" x2="459.00" y2="62.50" stroke="#1a1a1a" stroke-width="1.2"/>
<text x="0.00" y="0.00" font-size="8.1" text-anchor="end" font-weight="normal" fill="#111" stroke="#111" stroke-width="0.28" transform="translate(452.50,65.50) scale(1,1.06)">-100</text>
<line x1="456.20" y1="78.42" x2="459.00" y2="78.42" stroke="#1a1a1a" stroke-width="1.2"/>
<text x="0.00" y="0.00" font-size="8.1" text-anchor="end" font-weight="normal" fill="#111" stroke="#111" stroke-width="0.28" transform="translate(452.50,81.42) scale(1,1.06)">0</text>
<line x1="456.20" y1="94.34" x2="459.00" y2="94.34" stroke="#1a1a1a" stroke-width="1.2"/>
<text x="0.00" y="0.00" font-size="8.1" text-anchor="end" font-weight="normal" fill="#111" stroke="#111" stroke-width="0.28" transform="translate(452.50,97.34) scale(1,1.06)">100</text>
<line x1="456.20" y1="110.26" x2="459.00" y2="110.26" stroke="#1a1a1a" stroke-width="1.2"/>
<text x="0.00" y="0.00" font-size="8.1" text-anchor="end" font-weight="normal" fill="#111" stroke="#111" stroke-width="0.28" transform="translate(452.50,113.26) scale(1,1.06)">200</text>
<line x1="456.20" y1="126.18" x2="459.00" y2="126.18" stroke="#1a1a1a" stroke-width="1.2"/>
<text x="0.00" y="0.00" font-size="8.1" text-anchor="end" font-weight="normal" fill="#111" stroke="#111" stroke-width="0.28" transform="translate(452.50,129.18) scale(1,1.06)">300</text>
<line x1="456.20" y1="142.10" x2="459.00" y2="142.10" stroke="#1a1a1a" stroke-width="1.2"/>
<text x="0.00" y="0.00" font-size="8.1" text-anchor="end" font-weight="normal" fill="#111" stroke="#111" stroke-width="0.28" transform="translate(452.50,145.10) scale(1,1.06)">400</text>
<line x1="456.20" y1="158.02" x2="459.00" y2="158.02" stroke="#1a1a1a" stroke-width="1.2"/>
<text x="0.00" y="0.00" font-size="8.1" text-anchor="end" font-weight="normal" fill="#111" stroke="#111" stroke-width="0.28" transform="translate(452.50,161.02) scale(1,1.06)">500</text>
<text x="0.00" y="0.00" font-size="10.3" text-anchor="middle" font-weight="normal" fill="#111" stroke="#111" stroke-width="0.28" textLength="54.6" lengthAdjust="spacingAndGlyphs" transform="translate(430.50,110.30) rotate(-90)">Distance (AU)</text>
<polyline points="481.00,80.80 480.40,83.10 481.30,88.80 479.20,91.70 478.70,96.90 478.70,101.00 479.20,105.00 480.40,108.80 478.80,112.00 476.30,114.50 477.50,117.70 478.50,120.90 477.50,124.00 478.50,126.60 477.50,129.10 478.50,130.40" fill="none" stroke="#4a5a70" stroke-width="1.1" stroke-linejoin="round" stroke-linecap="round"/>
<polyline points="483.80,80.20 485.00,83.70 485.00,88.30 486.50,96.00 486.40,105.00 485.80,111.30 487.00,117.70 486.40,122.80 483.90,128.50 483.20,133.60 484.50,138.70 485.80,143.70" fill="none" stroke="#8098c0" stroke-width="1.1" stroke-linejoin="round" stroke-linecap="round"/>
<polyline points="487.70,115.40 489.50,119.00 491.50,123.10 493.80,130.80 494.60,136.90 493.10,141.50" fill="none" stroke="#90b870" stroke-width="1.1" stroke-linejoin="round" stroke-linecap="round"/>
<polyline points="486.20,118.50 489.20,126.20 491.50,133.80 493.10,140.00 493.80,143.10" fill="none" stroke="#d8a870" stroke-width="1.1" stroke-linejoin="round" stroke-linecap="round"/>
<polyline points="487.70,105.00 489.00,108.80 489.60,111.30 488.30,113.90 487.00,120.20 485.10,126.00 484.20,129.10" fill="none" stroke="#9a80b8" stroke-width="1.1" stroke-linejoin="round" stroke-linecap="round"/>
<polyline points="482.10,80.80 481.50,85.40 481.30,89.40 482.10,93.50 483.00,98.10 483.30,102.70 483.60,107.30 484.50,112.00 486.20,116.90 487.70,124.60 489.20,130.80 490.60,134.20" fill="none" stroke="#b85a55" stroke-width="1.1" stroke-linejoin="round" stroke-linecap="round"/>
<polyline points="483.80,80.20 485.00,83.70 485.50,88.30 487.30,91.50 488.40,95.30 487.30,97.90 486.30,103.20 486.80,107.50 487.30,111.20 486.80,114.90 486.30,119.60 486.80,124.90" fill="none" stroke="#3a4a5a" stroke-width="1.1" stroke-linejoin="round" stroke-linecap="round"/>
<polyline points="482.60,92.60 484.20,97.90 484.40,103.20 484.20,108.50 485.00,112.80" fill="none" stroke="#d08080" stroke-width="1.1" stroke-linejoin="round" stroke-linecap="round"/>
<polyline points="482.40,90.60 483.30,94.00 483.80,99.20" fill="none" stroke="#a04050" stroke-width="1.1" stroke-linejoin="round" stroke-linecap="round"/>
<line x1="357.90" y1="185.10" x2="408.70" y2="185.10" stroke="#1a1a1a" stroke-width="1.2"/>
<line x1="360.30" y1="182.50" x2="360.30" y2="185.10" stroke="#1a1a1a" stroke-width="1.2"/>
<text x="0.00" y="0.00" font-size="8.1" text-anchor="middle" font-weight="normal" fill="#111" stroke="#111" stroke-width="0.28" transform="translate(360.30,179.10) scale(1,1.06)">-150</text>
<line x1="382.40" y1="182.50" x2="382.40" y2="185.10" stroke="#1a1a1a" stroke-width="1.2"/>
<text x="0.00" y="0.00" font-size="8.1" text-anchor="middle" font-weight="normal" fill="#111" stroke="#111" stroke-width="0.28" transform="translate(382.40,179.10) scale(1,1.06)">0</text>
<line x1="405.40" y1="182.50" x2="405.40" y2="185.10" stroke="#1a1a1a" stroke-width="1.2"/>
<text x="0.00" y="0.00" font-size="8.1" text-anchor="middle" font-weight="normal" fill="#111" stroke="#111" stroke-width="0.28" transform="translate(405.40,179.10) scale(1,1.06)">150</text>
<line x1="357.90" y1="185.10" x2="357.90" y2="283.80" stroke="#1a1a1a" stroke-width="1.2"/>
<line x1="355.10" y1="185.10" x2="357.90" y2="185.10" stroke="#1a1a1a" stroke-width="1.2"/>
<text x="0.00" y="0.00" font-size="8.1" text-anchor="end" font-weight="normal" fill="#111" stroke="#111" stroke-width="0.28" transform="translate(351.40,188.10) scale(1,1.06)">-100</text>
<line x1="355.10" y1="201.02" x2="357.90" y2="201.02" stroke="#1a1a1a" stroke-width="1.2"/>
<text x="0.00" y="0.00" font-size="8.1" text-anchor="end" font-weight="normal" fill="#111" stroke="#111" stroke-width="0.28" transform="translate(351.40,204.02) scale(1,1.06)">0</text>
<line x1="355.10" y1="216.94" x2="357.90" y2="216.94" stroke="#1a1a1a" stroke-width="1.2"/>
<text x="0.00" y="0.00" font-size="8.1" text-anchor="end" font-weight="normal" fill="#111" stroke="#111" stroke-width="0.28" transform="translate(351.40,219.94) scale(1,1.06)">100</text>
<line x1="355.10" y1="232.86" x2="357.90" y2="232.86" stroke="#1a1a1a" stroke-width="1.2"/>
<text x="0.00" y="0.00" font-size="8.1" text-anchor="end" font-weight="normal" fill="#111" stroke="#111" stroke-width="0.28" transform="translate(351.40,235.86) scale(1,1.06)">200</text>
<line x1="355.10" y1="248.78" x2="357.90" y2="248.78" stroke="#1a1a1a" stroke-width="1.2"/>
<text x="0.00" y="0.00" font-size="8.1" text-anchor="end" font-weight="normal" fill="#111" stroke="#111" stroke-width="0.28" transform="translate(351.40,251.78) scale(1,1.06)">300</text>
<line x1="355.10" y1="264.70" x2="357.90" y2="264.70" stroke="#1a1a1a" stroke-width="1.2"/>
<text x="0.00" y="0.00" font-size="8.1" text-anchor="end" font-weight="normal" fill="#111" stroke="#111" stroke-width="0.28" transform="translate(351.40,267.70) scale(1,1.06)">400</text>
<line x1="355.10" y1="280.62" x2="357.90" y2="280.62" stroke="#1a1a1a" stroke-width="1.2"/>
<text x="0.00" y="0.00" font-size="8.1" text-anchor="end" font-weight="normal" fill="#111" stroke="#111" stroke-width="0.28" transform="translate(351.40,283.62) scale(1,1.06)">500</text>
<text x="0.00" y="0.00" font-size="10.3" text-anchor="middle" font-weight="normal" fill="#111" stroke="#111" stroke-width="0.28" textLength="54.6" lengthAdjust="spacingAndGlyphs" transform="translate(329.40,232.90) rotate(-90)">Distance (AU)</text>
<polyline points="383.30,200.80 380.70,202.20 379.50,203.70 380.90,206.50 381.80,210.00 383.50,211.70 385.80,211.40 387.60,210.00 389.30,211.70 390.50,212.90" fill="none" stroke="#4a4a4a" stroke-width="1.1" stroke-linejoin="round" stroke-linecap="round"/>
<polyline points="385.50,201.50 389.30,204.80 393.90,208.30" fill="none" stroke="#d06080" stroke-width="1.1" stroke-linejoin="round" stroke-linecap="round"/>
<polyline points="383.80,200.80 386.50,203.00 388.70,206.00 390.50,208.30 391.20,210.00" fill="none" stroke="#601030" stroke-width="1.1" stroke-linejoin="round" stroke-linecap="round"/>
<line x1="458.80" y1="185.10" x2="509.60" y2="185.10" stroke="#1a1a1a" stroke-width="1.2"/>
<line x1="461.20" y1="182.50" x2="461.20" y2="185.10" stroke="#1a1a1a" stroke-width="1.2"/>
<text x="0.00" y="0.00" font-size="8.1" text-anchor="middle" font-weight="normal" fill="#111" stroke="#111" stroke-width="0.28" transform="translate(461.20,179.10) scale(1,1.06)">-150</text>
<line x1="483.30" y1="182.50" x2="483.30" y2="185.10" stroke="#1a1a1a" stroke-width="1.2"/>
<text x="0.00" y="0.00" font-size="8.1" text-anchor="middle" font-weight="normal" fill="#111" stroke="#111" stroke-width="0.28" transform="translate(483.30,179.10) scale(1,1.06)">0</text>
<line x1="506.30" y1="182.50" x2="506.30" y2="185.10" stroke="#1a1a1a" stroke-width="1.2"/>
<text x="0.00" y="0.00" font-size="8.1" text-anchor="middle" font-weight="normal" fill="#111" stroke="#111" stroke-width="0.28" transform="translate(506.30,179.10) scale(1,1.06)">150</text>
<line x1="458.80" y1="185.10" x2="458.80" y2="283.80" stroke="#1a1a1a" stroke-width="1.2"/>
<line x1="456.00" y1="185.10" x2="458.80" y2="185.10" stroke="#1a1a1a" stroke-width="1.2"/>
<text x="0.00" y="0.00" font-size="8.1" text-anchor="end" font-weight="normal" fill="#111" stroke="#111" stroke-width="0.28" transform="translate(452.30,188.10) scale(1,1.06)">-100</text>
<line x1="456.00" y1="201.02" x2="458.80" y2="201.02" stroke="#1a1a1a" stroke-width="1.2"/>
<text x="0.00" y="0.00" font-size="8.1" text-anchor="end" font-weight="normal" fill="#111" stroke="#111" stroke-width="0.28" transform="translate(452.30,204.02) scale(1,1.06)">0</text>
<line x1="456.00" y1="216.94" x2="458.80" y2="216.94" stroke="#1a1a1a" stroke-width="1.2"/>
<text x="0.00" y="0.00" font-size="8.1" text-anchor="end" font-weight="normal" fill="#111" stroke="#111" stroke-width="0.28" transform="translate(452.30,219.94) scale(1,1.06)">100</text>
<line x1="456.00" y1="232.86" x2="458.80" y2="232.86" stroke="#1a1a1a" stroke-width="1.2"/>
<text x="0.00" y="0.00" font-size="8.1" text-anchor="end" font-weight="normal" fill="#111" stroke="#111" stroke-width="0.28" transform="translate(452.30,235.86) scale(1,1.06)">200</text>
<line x1="456.00" y1="248.78" x2="458.80" y2="248.78" stroke="#1a1a1a" stroke-width="1.2"/>
<text x="0.00" y="0.00" font-size="8.1" text-anchor="end" font-weight="normal" fill="#111" stroke="#111" stroke-width="0.28" transform="translate(452.30,251.78) scale(1,1.06)">300</text>
<line x1="456.00" y1="264.70" x2="458.80" y2="264.70" stroke="#1a1a1a" stroke-width="1.2"/>
<text x="0.00" y="0.00" font-size="8.1" text-anchor="end" font-weight="normal" fill="#111" stroke="#111" stroke-width="0.28" transform="translate(452.30,267.70) scale(1,1.06)">400</text>
<line x1="456.00" y1="280.62" x2="458.80" y2="280.62" stroke="#1a1a1a" stroke-width="1.2"/>
<text x="0.00" y="0.00" font-size="8.1" text-anchor="end" font-weight="normal" fill="#111" stroke="#111" stroke-width="0.28" transform="translate(452.30,283.62) scale(1,1.06)">500</text>
<text x="0.00" y="0.00" font-size="10.3" text-anchor="middle" font-weight="normal" fill="#111" stroke="#111" stroke-width="0.28" textLength="54.6" lengthAdjust="spacingAndGlyphs" transform="translate(430.30,232.90) rotate(-90)">Distance (AU)</text>
<polyline points="483.40,201.50 484.10,204.60 484.30,208.30 484.60,213.20 482.20,215.70 479.10,217.50 477.20,220.00 476.00,221.80 475.40,224.30 475.70,226.80 474.20,227.40 472.60,228.00 472.30,229.80" fill="none" stroke="#505a5a" stroke-width="1.1" stroke-linejoin="round" stroke-linecap="round"/>
<polyline points="483.70,202.20 485.80,204.60 488.90,205.20 492.60,206.50 494.50,207.70 495.10,210.20 495.70,212.30" fill="none" stroke="#8a3050" stroke-width="1.1" stroke-linejoin="round" stroke-linecap="round"/>
<line x1="360.20" y1="307.20" x2="411.00" y2="307.20" stroke="#1a1a1a" stroke-width="1.2"/>
<line x1="362.60" y1="304.60" x2="362.60" y2="307.20" stroke="#1a1a1a" stroke-width="1.2"/>
<text x="0.00" y="0.00" font-size="8.1" text-anchor="middle" font-weight="normal" fill="#111" stroke="#111" stroke-width="0.28" transform="translate(362.60,301.20) scale(1,1.06)">-150</text>
<line x1="384.70" y1="304.60" x2="384.70" y2="307.20" stroke="#1a1a1a" stroke-width="1.2"/>
<text x="0.00" y="0.00" font-size="8.1" text-anchor="middle" font-weight="normal" fill="#111" stroke="#111" stroke-width="0.28" transform="translate(384.70,301.20) scale(1,1.06)">0</text>
<line x1="407.70" y1="304.60" x2="407.70" y2="307.20" stroke="#1a1a1a" stroke-width="1.2"/>
<text x="0.00" y="0.00" font-size="8.1" text-anchor="middle" font-weight="normal" fill="#111" stroke="#111" stroke-width="0.28" transform="translate(407.70,301.20) scale(1,1.06)">150</text>
<line x1="360.20" y1="307.20" x2="360.20" y2="405.90" stroke="#1a1a1a" stroke-width="1.2"/>
<line x1="357.40" y1="307.20" x2="360.20" y2="307.20" stroke="#1a1a1a" stroke-width="1.2"/>
<text x="0.00" y="0.00" font-size="8.1" text-anchor="end" font-weight="normal" fill="#111" stroke="#111" stroke-width="0.28" transform="translate(353.70,310.20) scale(1,1.06)">-100</text>
<line x1="357.40" y1="323.12" x2="360.20" y2="323.12" stroke="#1a1a1a" stroke-width="1.2"/>
<text x="0.00" y="0.00" font-size="8.1" text-anchor="end" font-weight="normal" fill="#111" stroke="#111" stroke-width="0.28" transform="translate(353.70,326.12) scale(1,1.06)">0</text>
<line x1="357.40" y1="339.04" x2="360.20" y2="339.04" stroke="#1a1a1a" stroke-width="1.2"/>
<text x="0.00" y="0.00" font-size="8.1" text-anchor="end" font-weight="normal" fill="#111" stroke="#111" stroke-width="0.28" transform="translate(353.70,342.04) scale(1,1.06)">100</text>
<line x1="357.40" y1="354.96" x2="360.20" y2="354.96" stroke="#1a1a1a" stroke-width="1.2"/>
<text x="0.00" y="0.00" font-size="8.1" text-anchor="end" font-weight="normal" fill="#111" stroke="#111" stroke-width="0.28" transform="translate(353.70,357.96) scale(1,1.06)">200</text>
<line x1="357.40" y1="370.88" x2="360.20" y2="370.88" stroke="#1a1a1a" stroke-width="1.2"/>
<text x="0.00" y="0.00" font-size="8.1" text-anchor="end" font-weight="normal" fill="#111" stroke="#111" stroke-width="0.28" transform="translate(353.70,373.88) scale(1,1.06)">300</text>
<line x1="357.40" y1="386.80" x2="360.20" y2="386.80" stroke="#1a1a1a" stroke-width="1.2"/>
<text x="0.00" y="0.00" font-size="8.1" text-anchor="end" font-weight="normal" fill="#111" stroke="#111" stroke-width="0.28" transform="translate(353.70,389.80) scale(1,1.06)">400</text>
<line x1="357.40" y1="402.72" x2="360.20" y2="402.72" stroke="#1a1a1a" stroke-width="1.2"/>
<text x="0.00" y="0.00" font-size="8.1" text-anchor="end" font-weight="normal" fill="#111" stroke="#111" stroke-width="0.28" transform="translate(353.70,405.72) scale(1,1.06)">500</text>
<text x="0.00" y="0.00" font-size="10.3" text-anchor="middle" font-weight="normal" fill="#111" stroke="#111" stroke-width="0.28" textLength="54.6" lengthAdjust="spacingAndGlyphs" transform="translate(331.70,355.00) rotate(-90)">Distance (AU)</text>
<polyline points="382.60,324.90 382.60,329.50 382.80,333.20 383.10,337.80" fill="none" stroke="#707070" stroke-width="1.1" stroke-linejoin="round" stroke-linecap="round"/>
<polyline points="384.90,323.10 385.40,327.20 385.60,331.80 385.40,334.20 384.00,334.40" fill="none" stroke="#a04a55" stroke-width="1.1" stroke-linejoin="round" stroke-linecap="round"/>
<polyline points="385.40,322.20 384.20,324.00 383.10,325.60 382.60,327.70 380.30,329.30 381.90,331.40 381.70,333.70 382.20,335.50 382.60,337.80 383.10,339.70" fill="none" stroke="#502040" stroke-width="1.1" stroke-linejoin="round" stroke-linecap="round"/>
<polyline points="383.10,339.30 383.20,339.90" fill="none" stroke="#303040" stroke-width="1.1" stroke-linejoin="round" stroke-linecap="round"/>
<line x1="458.80" y1="309.80" x2="509.60" y2="309.80" stroke="#1a1a1a" stroke-width="1.2"/>
<line x1="461.20" y1="307.20" x2="461.20" y2="309.80" stroke="#1a1a1a" stroke-width="1.2"/>
<text x="0.00" y="0.00" font-size="8.1" text-anchor="middle" font-weight="normal" fill="#111" stroke="#111" stroke-width="0.28" transform="translate(461.20,303.80) scale(1,1.06)">-150</text>
<line x1="483.30" y1="307.20" x2="483.30" y2="309.80" stroke="#1a1a1a" stroke-width="1.2"/>
<text x="0.00" y="0.00" font-size="8.1" text-anchor="middle" font-weight="normal" fill="#111" stroke="#111" stroke-width="0.28" transform="translate(483.30,303.80) scale(1,1.06)">0</text>
<line x1="506.30" y1="307.20" x2="506.30" y2="309.80" stroke="#1a1a1a" stroke-width="1.2"/>
<text x="0.00" y="0.00" font-size="8.1" text-anchor="middle" font-weight="normal" fill="#111" stroke="#111" stroke-width="0.28" transform="translate(506.30,303.80) scale(1,1.06)">150</text>
<line x1="458.80" y1="309.80" x2="458.80" y2="408.50" stroke="#1a1a1a" stroke-width="1.2"/>
<line x1="456.00" y1="309.80" x2="458.80" y2="309.80" stroke="#1a1a1a" stroke-width="1.2"/>
<text x="0.00" y="0.00" font-size="8.1" text-anchor="end" font-weight="normal" fill="#111" stroke="#111" stroke-width="0.28" transform="translate(452.30,312.80) scale(1,1.06)">-100</text>
<line x1="456.00" y1="325.72" x2="458.80" y2="325.72" stroke="#1a1a1a" stroke-width="1.2"/>
<text x="0.00" y="0.00" font-size="8.1" text-anchor="end" font-weight="normal" fill="#111" stroke="#111" stroke-width="0.28" transform="translate(452.30,328.72) scale(1,1.06)">0</text>
<line x1="456.00" y1="341.64" x2="458.80" y2="341.64" stroke="#1a1a1a" stroke-width="1.2"/>
<text x="0.00" y="0.00" font-size="8.1" text-anchor="end" font-weight="normal" fill="#111" stroke="#111" stroke-width="0.28" transform="translate(452.30,344.64) scale(1,1.06)">100</text>
<line x1="456.00" y1="357.56" x2="458.80" y2="357.56" stroke="#1a1a1a" stroke-width="1.2"/>
<text x="0.00" y="0.00" font-size="8.1" text-anchor="end" font-weight="normal" fill="#111" stroke="#111" stroke-width="0.28" transform="translate(452.30,360.56) scale(1,1.06)">200</text>
<line x1="456.00" y1="373.48" x2="458.80" y2="373.48" stroke="#1a1a1a" stroke-width="1.2"/>
<text x="0.00" y="0.00" font-size="8.1" text-anchor="end" font-weight="normal" fill="#111" stroke="#111" stroke-width="0.28" transform="translate(452.30,376.48) scale(1,1.06)">300</text>
<line x1="456.00" y1="389.40" x2="458.80" y2="389.40" stroke="#1a1a1a" stroke-width="1.2"/>
<text x="0.00" y="0.00" font-size="8.1" text-anchor="end" font-weight="normal" fill="#111" stroke="#111" stroke-width="0.28" transform="translate(452.30,392.40) scale(1,1.06)">400</text>
<line x1="456.00" y1="405.32" x2="458.80" y2="405.32" stroke="#1a1a1a" stroke-width="1.2"/>
<text x="0.00" y="0.00" font-size="8.1" text-anchor="end" font-weight="normal" fill="#111" stroke="#111" stroke-width="0.28" transform="translate(452.30,408.32) scale(1,1.06)">500</text>
<text x="0.00" y="0.00" font-size="10.3" text-anchor="middle" font-weight="normal" fill="#111" stroke="#111" stroke-width="0.28" textLength="54.6" lengthAdjust="spacingAndGlyphs" transform="translate(430.30,357.60) rotate(-90)">Distance (AU)</text>
<polyline points="479.40,331.10 480.80,330.60 481.20,332.00" fill="none" stroke="#505050" stroke-width="1.1" stroke-linejoin="round" stroke-linecap="round"/>
<polyline points="483.30,326.00 485.40,328.30 487.20,330.20 488.20,331.10" fill="none" stroke="#c03070" stroke-width="1.1" stroke-linejoin="round" stroke-linecap="round"/>
<polyline points="487.20,332.90 488.20,334.30 487.70,335.70 486.30,336.20" fill="none" stroke="#408040" stroke-width="1.1" stroke-linejoin="round" stroke-linecap="round"/>
<polyline points="483.30,326.00 482.60,328.80 481.90,331.10 481.20,334.80 480.50,338.50 479.80,341.20 478.70,341.20 480.80,342.60" fill="none" stroke="#4a2a5a" stroke-width="1.1" stroke-linejoin="round" stroke-linecap="round"/>
<line x1="54.20" y1="606.20" x2="54.20" y2="481.50" stroke="#1a1a1a" stroke-width="1.2"/>
<line x1="51.20" y1="597.60" x2="54.20" y2="597.60" stroke="#1a1a1a" stroke-width="1.2"/>
<text x="0.00" y="0.00" font-size="7.9" text-anchor="end" font-weight="normal" fill="#111" stroke="#111" stroke-width="0.28" transform="translate(47.90,600.70) scale(1,1.1)">0</text>
<line x1="51.20" y1="559.85" x2="54.20" y2="559.85" stroke="#1a1a1a" stroke-width="1.2"/>
<text x="0.00" y="0.00" font-size="7.9" text-anchor="end" font-weight="normal" fill="#111" stroke="#111" stroke-width="0.28" transform="translate(47.90,562.95) scale(1,1.1)">4</text>
<line x1="51.20" y1="522.10" x2="54.20" y2="522.10" stroke="#1a1a1a" stroke-width="1.2"/>
<text x="0.00" y="0.00" font-size="7.9" text-anchor="end" font-weight="normal" fill="#111" stroke="#111" stroke-width="0.28" transform="translate(47.90,525.20) scale(1,1.1)">8</text>
<line x1="51.20" y1="484.35" x2="54.20" y2="484.35" stroke="#1a1a1a" stroke-width="1.2"/>
<text x="0.00" y="0.00" font-size="7.9" text-anchor="end" font-weight="normal" fill="#111" stroke="#111" stroke-width="0.28" transform="translate(47.90,487.45) scale(1,1.1)">12</text>
<text x="0.00" y="0.00" font-size="9" text-anchor="middle" font-weight="normal" fill="#111" stroke="#111" stroke-width="0.28" transform="translate(32.4,543.9) rotate(-90)">Velocity</text>
<line x1="54.20" y1="606.20" x2="176.50" y2="606.20" stroke="#1a1a1a" stroke-width="1.2"/>
<line x1="64.40" y1="606.20" x2="64.40" y2="609.20" stroke="#1a1a1a" stroke-width="1.2"/>
<line x1="84.90" y1="606.20" x2="84.90" y2="609.20" stroke="#1a1a1a" stroke-width="1.2"/>
<line x1="105.40" y1="606.20" x2="105.40" y2="609.20" stroke="#1a1a1a" stroke-width="1.2"/>
<line x1="125.50" y1="606.20" x2="125.50" y2="609.20" stroke="#1a1a1a" stroke-width="1.2"/>
<line x1="145.70" y1="606.20" x2="145.70" y2="609.20" stroke="#1a1a1a" stroke-width="1.2"/>
<line x1="166.00" y1="606.20" x2="166.00" y2="609.20" stroke="#1a1a1a" stroke-width="1.2"/>
<text x="0.00" y="0.00" font-size="8" text-anchor="end" font-weight="normal" fill="#111" stroke="#111" stroke-width="0.28" transform="translate(65.70,618.20) rotate(-45)">NL</text>
<text x="0.00" y="0.00" font-size="8" text-anchor="end" font-weight="normal" fill="#111" stroke="#111" stroke-width="0.28" transform="translate(86.20,618.20) rotate(-45)">PT I.2.2</text>
<text x="0.00" y="0.00" font-size="8" text-anchor="end" font-weight="normal" fill="#111" stroke="#111" stroke-width="0.28" transform="translate(106.70,618.20) rotate(-45)">PT I.2.3</text>
<text x="0.00" y="0.00" font-size="8" text-anchor="end" font-weight="normal" fill="#111" stroke="#111" stroke-width="0.28" transform="translate(126.80,618.20) rotate(-45)">NL</text>
<text x="0.00" y="0.00" font-size="8" text-anchor="end" font-weight="normal" fill="#111" stroke="#111" stroke-width="0.28" transform="translate(147.00,618.20) rotate(-45)">PT I.2.2</text>
<text x="0.00" y="0.00" font-size="8" text-anchor="end" font-weight="normal" fill="#111" stroke="#111" stroke-width="0.28" transform="translate(167.30,618.20) rotate(-45)">PT I.2.3</text>
<line x1="59.60" y1="644.40" x2="109.60" y2="644.40" stroke="#000" stroke-width="1.2"/>
<line x1="121.60" y1="644.40" x2="171.60" y2="644.40" stroke="#000" stroke-width="1.2"/>
<text x="0.00" y="0.00" font-size="8" text-anchor="middle" font-weight="normal" fill="#111" stroke="#111" stroke-width="0.28" transform="translate(84.6,655.1) scale(1,1.1)">Buffer</text>
<text x="0.00" y="0.00" font-size="8" text-anchor="middle" font-weight="normal" fill="#111" stroke="#111" stroke-width="0.28" transform="translate(146.7,655.2) scale(1,1.1)">fMLF</text>
<polyline points="64.20,479.80 64.20,474.50 105.20,474.50 105.20,479.80" fill="none" stroke="#000" stroke-width="1.1"/>
<circle cx="78.42" cy="469.60" r="1.35" fill="#000"/>
<circle cx="82.67" cy="469.60" r="1.35" fill="#000"/>
<circle cx="86.92" cy="469.60" r="1.35" fill="#000"/>
<circle cx="91.17" cy="469.60" r="1.35" fill="#000"/>
<polyline points="64.20,494.00 64.20,488.00 85.60,488.00 85.60,494.00" fill="none" stroke="#000" stroke-width="1.1"/>
<circle cx="68.62" cy="483.90" r="1.35" fill="#000"/>
<circle cx="72.88" cy="483.90" r="1.35" fill="#000"/>
<circle cx="77.12" cy="483.90" r="1.35" fill="#000"/>
<circle cx="81.38" cy="483.90" r="1.35" fill="#000"/>
<polyline points="125.60,481.00 125.60,475.20 166.60,475.20 166.60,481.00" fill="none" stroke="#000" stroke-width="1.1"/>
<circle cx="139.72" cy="470.40" r="1.35" fill="#000"/>
<circle cx="143.97" cy="470.40" r="1.35" fill="#000"/>
<circle cx="148.22" cy="470.40" r="1.35" fill="#000"/>
<circle cx="152.47" cy="470.40" r="1.35" fill="#000"/>
<polyline points="125.60,494.40 125.60,488.80 147.10,488.80 147.10,494.40" fill="none" stroke="#000" stroke-width="1.1"/>
<circle cx="129.82" cy="484.50" r="1.35" fill="#000"/>
<circle cx="134.07" cy="484.50" r="1.35" fill="#000"/>
<circle cx="138.32" cy="484.50" r="1.35" fill="#000"/>
<circle cx="142.57" cy="484.50" r="1.35" fill="#000"/>
<line x1="64.50" y1="556.10" x2="64.50" y2="576.30" stroke="#3a3a3a" stroke-width="1.1"/>
<line x1="57.80" y1="565.90" x2="71.20" y2="565.90" stroke="#3a3a3a" stroke-width="1.1"/>
<line x1="61.20" y1="556.10" x2="67.80" y2="556.10" stroke="#3a3a3a" stroke-width="1.1"/>
<line x1="61.20" y1="576.30" x2="67.80" y2="576.30" stroke="#3a3a3a" stroke-width="1.1"/>
<circle cx="64.80" cy="551.10" r="1.85" fill="#000"/>
<circle cx="62.10" cy="553.70" r="1.85" fill="#000"/>
<circle cx="66.90" cy="557.70" r="1.85" fill="#000"/>
<circle cx="64.50" cy="563.30" r="1.85" fill="#000"/>
<circle cx="61.90" cy="566.40" r="1.85" fill="#000"/>
<circle cx="66.90" cy="569.10" r="1.85" fill="#000"/>
<circle cx="59.50" cy="572.50" r="1.85" fill="#000"/>
<circle cx="69.80" cy="572.80" r="1.85" fill="#000"/>
<circle cx="66.40" cy="574.60" r="1.85" fill="#000"/>
<circle cx="62.90" cy="577.00" r="1.85" fill="#000"/>
<line x1="85.00" y1="577.50" x2="85.00" y2="599.00" stroke="#3a3a3a" stroke-width="1.1"/>
<line x1="78.30" y1="588.60" x2="91.70" y2="588.60" stroke="#3a3a3a" stroke-width="1.1"/>
<line x1="81.70" y1="577.50" x2="88.30" y2="577.50" stroke="#3a3a3a" stroke-width="1.1"/>
<line x1="81.70" y1="599.00" x2="88.30" y2="599.00" stroke="#3a3a3a" stroke-width="1.1"/>
<polygon points="85.00,563.30 87.10,567.00 82.90,567.00" fill="#000"/>
<polygon points="85.00,571.40 87.10,575.10 82.90,575.10" fill="#000"/>
<polygon points="82.30,584.40 84.40,588.10 80.20,588.10" fill="#000"/>
<polygon points="87.30,586.70 89.40,590.40 85.20,590.40" fill="#000"/>
<polygon points="81.50,592.90 83.60,596.60 79.40,596.60" fill="#000"/>
<polygon points="88.10,592.10 90.20,595.80 86.00,595.80" fill="#000"/>
<polygon points="84.60,594.80 86.70,598.50 82.50,598.50" fill="#000"/>
<polygon points="83.00,595.50 85.10,599.20 80.90,599.20" fill="#000"/>
<polygon points="86.40,595.50 88.50,599.20 84.30,599.20" fill="#000"/>
<line x1="105.40" y1="576.30" x2="105.40" y2="603.50" stroke="#3a3a3a" stroke-width="1.1"/>
<line x1="98.70" y1="590.00" x2="112.10" y2="590.00" stroke="#3a3a3a" stroke-width="1.1"/>
<line x1="102.10" y1="576.30" x2="108.70" y2="576.30" stroke="#3a3a3a" stroke-width="1.1"/>
<line x1="102.10" y1="603.50" x2="108.70" y2="603.50" stroke="#3a3a3a" stroke-width="1.1"/>
<rect x="103.60" y="556.70" width="3.60" height="3.60" fill="#000"/>
<rect x="103.60" y="571.70" width="3.60" height="3.60" fill="#000"/>
<rect x="105.50" y="589.70" width="3.60" height="3.60" fill="#000"/>
<rect x="106.50" y="591.70" width="3.60" height="3.60" fill="#000"/>
<rect x="99.20" y="594.50" width="3.60" height="3.60" fill="#000"/>
<rect x="101.70" y="594.80" width="3.60" height="3.60" fill="#000"/>
<rect x="104.20" y="595.00" width="3.60" height="3.60" fill="#000"/>
<rect x="106.70" y="594.80" width="3.60" height="3.60" fill="#000"/>
<rect x="108.50" y="594.50" width="3.60" height="3.60" fill="#000"/>
<rect x="102.70" y="592.70" width="3.60" height="3.60" fill="#000"/>
<line x1="125.60" y1="512.20" x2="125.60" y2="546.50" stroke="#3a3a3a" stroke-width="1.1"/>
<line x1="118.90" y1="529.30" x2="132.30" y2="529.30" stroke="#3a3a3a" stroke-width="1.1"/>
<line x1="122.30" y1="512.20" x2="128.90" y2="512.20" stroke="#3a3a3a" stroke-width="1.1"/>
<line x1="122.30" y1="546.50" x2="128.90" y2="546.50" stroke="#3a3a3a" stroke-width="1.1"/>
<circle cx="123.10" cy="504.80" r="1.85" fill="#000"/>
<circle cx="128.30" cy="506.80" r="1.85" fill="#000"/>
<circle cx="122.90" cy="515.70" r="1.85" fill="#000"/>
<circle cx="128.10" cy="515.70" r="1.85" fill="#000"/>
<circle cx="121.30" cy="537.00" r="1.85" fill="#000"/>
<circle cx="130.00" cy="536.30" r="1.85" fill="#000"/>
<circle cx="125.70" cy="540.80" r="1.85" fill="#000"/>
<circle cx="121.30" cy="542.60" r="1.85" fill="#000"/>
<circle cx="125.40" cy="547.20" r="1.85" fill="#000"/>
<circle cx="130.20" cy="546.50" r="1.85" fill="#000"/>
<line x1="145.75" y1="578.40" x2="145.75" y2="602.60" stroke="#3a3a3a" stroke-width="1.1"/>
<line x1="139.05" y1="590.60" x2="152.45" y2="590.60" stroke="#3a3a3a" stroke-width="1.1"/>
<line x1="142.45" y1="578.40" x2="149.05" y2="578.40" stroke="#3a3a3a" stroke-width="1.1"/>
<line x1="142.45" y1="602.60" x2="149.05" y2="602.60" stroke="#3a3a3a" stroke-width="1.1"/>
<polygon points="145.75,563.20 147.85,566.90 143.65,566.90" fill="#000"/>
<polygon points="145.75,569.00 147.85,572.70 143.65,572.70" fill="#000"/>
<polygon points="145.75,589.70 147.85,593.40 143.65,593.40" fill="#000"/>
<polygon points="140.80,594.90 142.90,598.60 138.70,598.60" fill="#000"/>
<polygon points="143.30,595.20 145.40,598.90 141.20,598.90" fill="#000"/>
<polygon points="145.80,595.20 147.90,598.90 143.70,598.90" fill="#000"/>
<polygon points="148.30,595.20 150.40,598.90 146.20,598.90" fill="#000"/>
<polygon points="150.80,594.90 152.90,598.60 148.70,598.60" fill="#000"/>
<line x1="166.00" y1="574.40" x2="166.00" y2="597.00" stroke="#3a3a3a" stroke-width="1.1"/>
<line x1="159.30" y1="584.50" x2="172.70" y2="584.50" stroke="#3a3a3a" stroke-width="1.1"/>
<line x1="162.70" y1="574.40" x2="169.30" y2="574.40" stroke="#3a3a3a" stroke-width="1.1"/>
<line x1="162.70" y1="597.00" x2="169.30" y2="597.00" stroke="#3a3a3a" stroke-width="1.1"/>
<rect x="164.20" y="565.20" width="3.60" height="3.60" fill="#000"/>
<rect x="159.70" y="572.60" width="3.60" height="3.60" fill="#000"/>
<rect x="169.20" y="572.60" width="3.60" height="3.60" fill="#000"/>
<rect x="164.20" y="576.60" width="3.60" height="3.60" fill="#000"/>
<rect x="162.20" y="582.20" width="3.60" height="3.60" fill="#000"/>
<rect x="166.30" y="583.00" width="3.60" height="3.60" fill="#000"/>
<rect x="169.60" y="591.70" width="3.60" height="3.60" fill="#000"/>
<rect x="158.40" y="594.60" width="3.60" height="3.60" fill="#000"/>
<rect x="161.00" y="594.80" width="3.60" height="3.60" fill="#000"/>
<rect x="163.70" y="595.00" width="3.60" height="3.60" fill="#000"/>
<rect x="166.50" y="594.60" width="3.60" height="3.60" fill="#000"/>
<rect x="0.5" y="0.5" width="519" height="661" fill="none" stroke="#000" stroke-width="1"/>
</svg>
</body></html>
